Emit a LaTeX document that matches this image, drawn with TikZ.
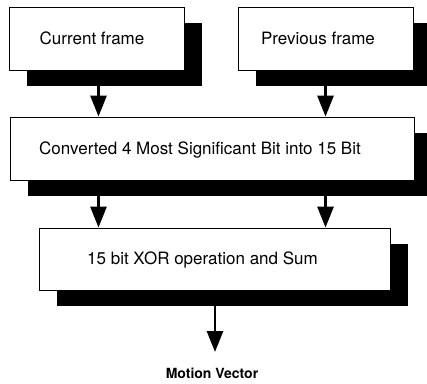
\documentclass[tikz,border=0pt]{standalone}
\usepackage{fontspec}
\setmainfont{TeX Gyre Heros}
\usetikzlibrary{arrows.meta,shadows}
\begin{document}
\begin{tikzpicture}[x=1pt,y=-1pt,
  box/.style={draw=black,line width=0.8pt,fill=white,rectangle,inner sep=0pt,
    drop shadow={shadow xshift=18pt,shadow yshift=-16pt,fill=black,opacity=1}},
  lbl/.style={font=\fontsize{17}{19}\selectfont,inner sep=0pt},
  arr/.style={line width=2.8pt,-{Triangle[length=21pt,width=16pt]}}]
\useasboundingbox (0,0) rectangle (427,383);
\clip (0,0) rectangle (427,383);
\node[box,minimum width=175pt,minimum height=63pt] (cur) at (96.5,38.5) {};
\node[box,minimum width=175pt,minimum height=63pt] (prev) at (325.5,38.5) {};
\node[box,minimum width=404pt,minimum height=63pt] (conv) at (212,148.5) {};
\node[box,minimum width=351pt,minimum height=62pt] (xor) at (214.5,259) {};
\node[lbl] (tcur) at (92,38) {Current frame};
\node[lbl] (tprev) at (318,38) {Previous frame};
\node[lbl] (tconv) at (200,149.5) {Converted 4 Most Significant Bit into 15 Bit};
\node[lbl] (txor) at (202.5,259.5) {15 bit XOR operation and Sum};
\node[font=\fontsize{14}{16}\selectfont\bfseries,inner sep=0pt] (mv) at (212,373) {Motion Vector};
\coordinate (out) at (215,352);
\draw[arr] ([xshift=2pt]cur.south) -- ([xshift=2pt]cur.south |- conv.north);
\draw[arr] (prev.south) -- (prev.south |- conv.north);
\draw[arr] ([xshift=2pt]cur.south |- conv.south) -- ([xshift=2pt]cur.south |- xor.north);
\draw[arr] (prev.south |- conv.south) -- (prev.south |- xor.north);
\draw[arr] (xor.south -| out) -- (out);
\end{tikzpicture}
\end{document}
